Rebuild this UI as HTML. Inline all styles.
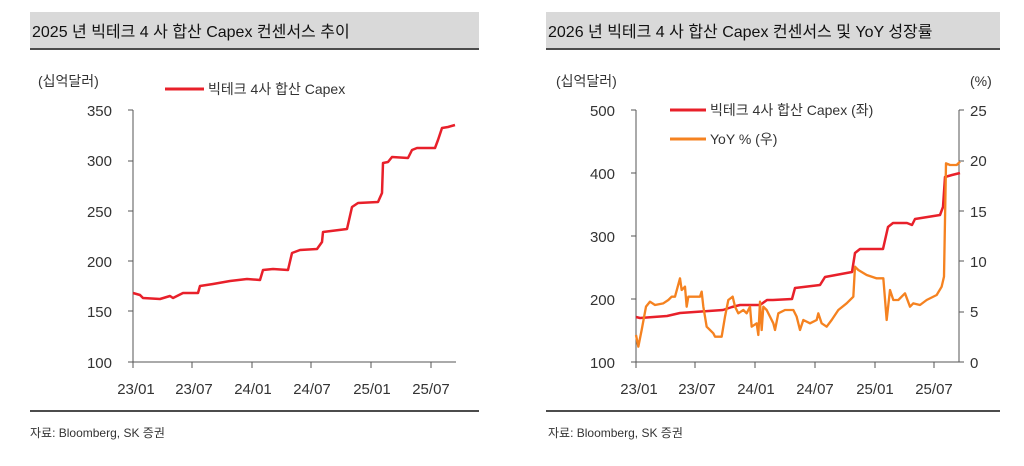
<!DOCTYPE html>
<html><head><meta charset="utf-8"><style>
body{margin:0;background:#fff;}
svg text{font-family:"Liberation Sans","Noto Sans CJK KR",sans-serif;fill:#333;}
</style></head><body>
<svg width="1024" height="461" viewBox="0 0 1024 461" xmlns="http://www.w3.org/2000/svg">
<!-- Left chart -->
<rect x="30" y="12" width="449" height="36" fill="#d9d9d9"/>
<line x1="30" y1="49" x2="479" y2="49" stroke="#111" stroke-width="1.5"/>
<text x="32" y="37" font-size="16" style="fill:#111">2025 년 빅테크 4 사 합산 Capex 컨센서스 추이</text>
<text x="38" y="86" font-size="14">(십억달러)</text>
<line x1="165" y1="89" x2="204" y2="89" stroke="#e8202a" stroke-width="3"/>
<text x="208" y="94" font-size="14">빅테크 4사 합산 Capex</text>
<g font-size="15" text-anchor="end">
<text x="112" y="116">350</text><text x="112" y="166">300</text><text x="112" y="217">250</text>
<text x="112" y="267">200</text><text x="112" y="317">150</text><text x="112" y="368">100</text>
</g>
<g stroke="#555" stroke-width="1">
<line x1="133" y1="110" x2="133" y2="362"/><line x1="128" y1="362" x2="456" y2="362"/>
<line x1="128" y1="110" x2="133" y2="110"/><line x1="128" y1="161" x2="133" y2="161"/><line x1="128" y1="211" x2="133" y2="211"/><line x1="128" y1="261" x2="133" y2="261"/><line x1="128" y1="311" x2="133" y2="311"/>
<line x1="133" y1="362" x2="133" y2="368"/><line x1="192" y1="362" x2="192" y2="368"/><line x1="252" y1="362" x2="252" y2="368"/><line x1="311" y1="362" x2="311" y2="368"/><line x1="371" y1="362" x2="371" y2="368"/><line x1="431" y1="362" x2="431" y2="368"/>
</g>
<g font-size="15" text-anchor="middle">
<text x="136" y="394">23/01</text><text x="194" y="394">23/07</text><text x="253" y="394">24/01</text><text x="312" y="394">24/07</text><text x="372" y="394">25/01</text><text x="431" y="394">25/07</text>
</g>
<polyline fill="none" stroke="#e8202a" stroke-width="2.5" stroke-linejoin="round" points="133,293 140,295 143,298 160,299 170,296 173,298 183,293 198,293 200,286 213,284 230,281 247,279 260,280 263,270 273,269 288,270 292,253 300,250 317,249 322,242 323,232 347,229 352,207 358,203 378,202 382,193 383,163 388,162 392,157 408,158 412,150 417,148 435,148 438,140 442,128 448,127 455,125"/>
<line x1="30" y1="411" x2="479" y2="411" stroke="#111" stroke-width="1.5"/>
<text x="30" y="437" font-size="12">자료: Bloomberg, SK 증권</text>

<!-- Right chart -->
<rect x="546" y="12" width="454" height="36" fill="#d9d9d9"/>
<line x1="546" y1="49" x2="1000" y2="49" stroke="#111" stroke-width="1.5"/>
<text x="548" y="37" font-size="16" style="fill:#111">2026 년 빅테크 4 사 합산 Capex 컨센서스 및 YoY 성장률</text>
<text x="556" y="86" font-size="14">(십억달러)</text>
<text x="970" y="86" font-size="14">(%)</text>
<line x1="670" y1="110" x2="706" y2="110" stroke="#e8202a" stroke-width="3"/>
<text x="710" y="115" font-size="14">빅테크 4사 합산 Capex (좌)</text>
<line x1="670" y1="139" x2="706" y2="139" stroke="#f58220" stroke-width="3"/>
<text x="710" y="144" font-size="14">YoY % (우)</text>
<g font-size="15" text-anchor="end">
<text x="615" y="116">500</text><text x="615" y="179">400</text><text x="615" y="242">300</text><text x="615" y="305">200</text><text x="615" y="368">100</text>
</g>
<g font-size="15">
<text x="970" y="116">25</text><text x="970" y="166">20</text><text x="970" y="217">15</text><text x="970" y="267">10</text><text x="970" y="317">5</text><text x="970" y="368">0</text>
</g>
<g stroke="#555" stroke-width="1">
<line x1="636" y1="110" x2="636" y2="362"/><line x1="631" y1="362" x2="964" y2="362"/>
<line x1="959" y1="110" x2="959" y2="362"/>
<line x1="631" y1="110" x2="636" y2="110"/><line x1="631" y1="173" x2="636" y2="173"/><line x1="631" y1="236" x2="636" y2="236"/><line x1="631" y1="299" x2="636" y2="299"/>
<line x1="959" y1="110" x2="964" y2="110"/><line x1="959" y1="161" x2="964" y2="161"/><line x1="959" y1="211" x2="964" y2="211"/><line x1="959" y1="261" x2="964" y2="261"/><line x1="959" y1="312" x2="964" y2="312"/>
<line x1="636" y1="362" x2="636" y2="368"/><line x1="695" y1="362" x2="695" y2="368"/><line x1="755" y1="362" x2="755" y2="368"/><line x1="815" y1="362" x2="815" y2="368"/><line x1="875" y1="362" x2="875" y2="368"/><line x1="934" y1="362" x2="934" y2="368"/>
</g>
<g font-size="15" text-anchor="middle">
<text x="639" y="394">23/01</text><text x="697" y="394">23/07</text><text x="756" y="394">24/01</text><text x="815" y="394">24/07</text><text x="875" y="394">25/01</text><text x="934" y="394">25/07</text>
</g>
<polyline fill="none" stroke="#e8202a" stroke-width="2.5" stroke-linejoin="round" points="636,317 640,318 667,316 680,313 723,310 732,307 740,305 760,305 767,300 773,300 792,299 795,288 820,285 825,277 852,272 855,253 860,249 883,249 888,227 893,223 907,223 912,225 915,219 940,215 943,207 945,177 952,175 960,173"/>
<g transform="translate(540,150) scale(0.33333)">
<polyline fill="none" stroke="#f58220" stroke-width="7" stroke-linejoin="round" points="288,555 295,590 305,540 318,470 330,455 345,465 370,460 385,450 395,440 405,440 420,385 425,420 435,410 440,470 445,440 480,440 485,425 490,470 500,530 520,550 525,560 545,560 555,500 565,450 578,440 585,470 595,490 610,480 620,490 630,470 635,530 650,520 655,555 660,455 665,540 670,470 680,480 690,500 700,520 705,540 715,490 735,480 760,480 770,500 780,540 790,510 810,520 830,510 835,490 845,520 860,530 875,510 895,480 920,460 940,440 945,350 955,360 980,375 1010,385 1030,385 1040,510 1050,420 1060,450 1075,450 1095,430 1110,470 1120,460 1140,465 1160,450 1190,435 1205,410 1212,380 1218,40 1230,45 1250,45 1260,35"/>
</g>
<line x1="546" y1="411" x2="1000" y2="411" stroke="#111" stroke-width="1.5"/>
<text x="548" y="437" font-size="12">자료: Bloomberg, SK 증권</text>
</svg>
</body></html>
